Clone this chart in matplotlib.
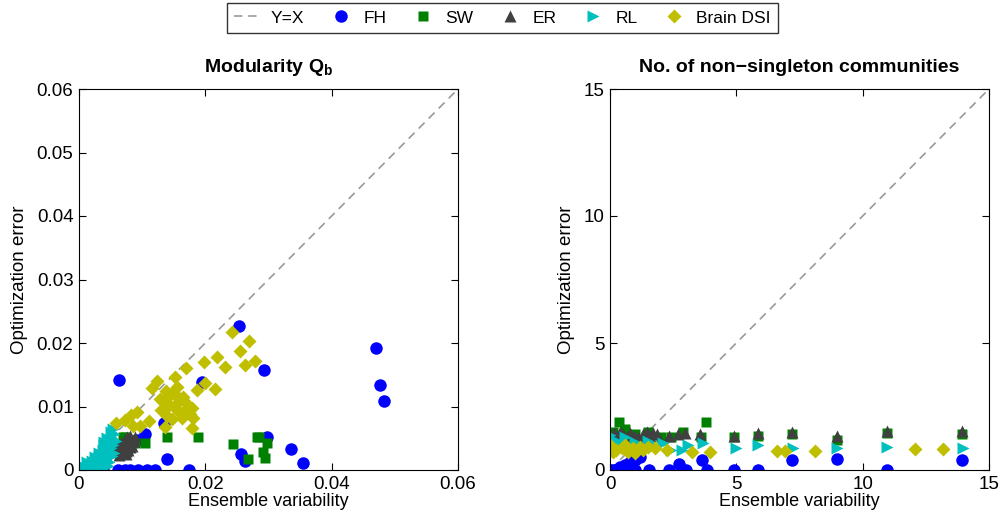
import matplotlib
matplotlib.use('Agg')
import matplotlib.pyplot as plt

plt.rcParams['font.family'] = ['Liberation Sans', 'DejaVu Sans']
plt.rcParams['mathtext.fontset'] = 'custom'
plt.rcParams['mathtext.bf'] = 'Liberation Sans:bold'
plt.rcParams['mathtext.rm'] = 'Liberation Sans'

# ---- left panel: modularity Qb ----
fh_x = [0.0253, 0.0063, 0.0195, 0.0293, 0.0470, 0.0477, 0.0483, 0.0298, 0.0256, 0.0263,
        0.0336, 0.0355, 0.0135, 0.0139, 0.0104, 0.0092, 0.0068,
        0.0002, 0.0010, 0.0022, 0.0030, 0.0038, 0.0062, 0.0073, 0.0081, 0.0093, 0.0108, 0.0120, 0.0174]
fh_y = [0.0227, 0.0142, 0.0139, 0.0157, 0.0192, 0.0134, 0.0109, 0.0052, 0.0025, 0.0014,
        0.0033, 0.0011, 0.0074, 0.0017, 0.0057, 0.0047, 0.0028,
        0, 0, 0, 0, 0, 0, 0, 0, 0, 0, 0, 0]

sw_x = [0.0139, 0.0188, 0.0244, 0.0268, 0.0282, 0.0104, 0.0089, 0.0073, 0.0285, 0.0297,
        0.0292, 0.0294, 0.0070]
sw_y = [0.0052, 0.0052, 0.0041, 0.0017, 0.0052, 0.0043, 0.0043, 0.0052, 0.0052, 0.0042,
        0.0028, 0.0019, 0.0052]

er_x = [0.0062, 0.0065, 0.0068, 0.0070, 0.0072, 0.0075, 0.0077, 0.0080, 0.0082, 0.0085,
        0.0066, 0.0071, 0.0074, 0.0079, 0.0083, 0.0069, 0.0076, 0.0081, 0.0064, 0.0087,
        0.0060, 0.0067, 0.0073, 0.0078, 0.0084, 0.0088, 0.0063, 0.0070, 0.0075, 0.0080]
er_y = [0.0030, 0.0036, 0.0032, 0.0040, 0.0035, 0.0042, 0.0038, 0.0045, 0.0040, 0.0048,
        0.0042, 0.0046, 0.0030, 0.0050, 0.0044, 0.0028, 0.0052, 0.0036, 0.0040, 0.0046,
        0.0034, 0.0026, 0.0048, 0.0032, 0.0038, 0.0052, 0.0024, 0.0034, 0.0025, 0.0054]

rl_x = [0.0010, 0.0014, 0.0018, 0.0020, 0.0024, 0.0026, 0.0028, 0.0030, 0.0032, 0.0034,
        0.0036, 0.0038, 0.0040, 0.0042, 0.0044, 0.0046, 0.0048, 0.0050, 0.0052, 0.0054,
        0.0056, 0.0045, 0.0050, 0.0040, 0.0022, 0.0036, 0.0048, 0.0055, 0.0058, 0.0054,
        0.0012, 0.0016, 0.0020, 0.0025, 0.0030, 0.0034, 0.0038, 0.0043, 0.0047, 0.0052,
        0.0042, 0.0046, 0.0027, 0.0032, 0.0039]
rl_y = [0.0004, 0.0008, 0.0006, 0.0014, 0.0010, 0.0020, 0.0006, 0.0016, 0.0026, 0.0012,
        0.0022, 0.0032, 0.0018, 0.0028, 0.0038, 0.0024, 0.0044, 0.0034, 0.0050, 0.0040,
        0.0056, 0.0050, 0.0060, 0.0044, 0.0002, 0.0004, 0.0012, 0.0026, 0.0046, 0.0064,
        0.0012, 0.0002, 0.0008, 0.0004, 0.0010, 0.0006, 0.0014, 0.0008, 0.0030, 0.0022,
        0.0016, 0.0006, 0.0014, 0.0020, 0.0040]

dsi_x = [0.0242, 0.0269, 0.0255, 0.0263, 0.0279, 0.0218, 0.0231, 0.0198, 0.0169, 0.0187,
         0.0215, 0.0199, 0.0152, 0.0123, 0.0116, 0.0179, 0.0180, 0.0179, 0.0136, 0.0092,
         0.0082, 0.0073, 0.0059, 0.0085, 0.0097, 0.0111,
         0.0130, 0.0135, 0.0140, 0.0145, 0.0150, 0.0155, 0.0160, 0.0165, 0.0170, 0.0175,
         0.0138, 0.0148, 0.0158, 0.0168, 0.0143, 0.0153, 0.0163, 0.0128]
dsi_y = [0.0217, 0.0203, 0.0188, 0.0165, 0.0172, 0.0178, 0.0162, 0.0170, 0.0160, 0.0126,
         0.0127, 0.0137, 0.0147, 0.0140, 0.0129, 0.0098, 0.0082, 0.0066, 0.0068, 0.0091,
         0.0087, 0.0079, 0.0074, 0.0069, 0.0069, 0.0077,
         0.0095, 0.0110, 0.0085, 0.0120, 0.0100, 0.0130, 0.0090, 0.0115, 0.0105, 0.0088,
         0.0125, 0.0080, 0.0108, 0.0095, 0.0103, 0.0118, 0.0082, 0.0112]

# ---- right panel: number of non-singleton communities ----
fh2_x = [0, 0.1, 0.2, 0.3, 0.4, 0.5, 0.6, 0.7, 0.8, 0.9, 1.0, 1.55, 2.33, 3.0, 3.83, 4.9, 5.86, 10.96,
         0.4, 0.6, 0.8, 1.0, 1.2, 2.73, 3.64, 7.2, 8.98, 13.93]
fh2_y = [0, 0, 0, 0, 0, 0, 0, 0, 0, 0, 0, 0, 0, 0, 0, 0, 0, 0,
         0.1, 0.2, 0.3, 0.4, 0.5, 0.24, 0.4, 0.4, 0.43, 0.4]

sw2_x = [0.36, 0.1, 0.6, 1.0, 1.5, 2.0, 2.4, 2.9, 3.8, 3.6, 4.9, 5.86, 7.2, 8.98, 10.96, 13.93]
sw2_y = [1.9, 1.5, 1.6, 1.4, 1.5, 1.3, 1.3, 1.5, 1.9, 1.3, 1.3, 1.35, 1.4, 1.2, 1.45, 1.4]

er2_x = [0, 0.15, 0.27, 0.4, 0.53, 0.66, 0.8, 0.95, 1.1, 1.3, 1.45, 1.58, 1.72, 1.86,
         2.33, 2.7, 2.97, 3.56, 4.9, 5.86, 7.2, 8.98, 10.96, 13.93]
er2_y = [1.3, 1.45, 1.35, 1.5, 1.4, 1.3, 1.45, 1.35, 1.3, 1.4, 1.5, 1.35, 1.45, 1.4,
         1.35, 1.4, 1.45, 1.4, 1.35, 1.45, 1.5, 1.35, 1.55, 1.55]

rl2_x = [0, 0.2, 0.4, 0.6, 0.8, 1.0, 1.2, 1.5, 1.8, 2.1, 2.4, 2.85, 3.1, 3.7, 5.0, 5.86,
         7.25, 9.0, 10.96, 13.97]
rl2_y = [1.38, 1.2, 1.0, 1.3, 0.9, 1.1, 0.85, 1.15, 0.95, 1.05, 0.8, 0.79, 1.0, 1.05, 0.85, 1.0,
         0.86, 0.86, 0.9, 0.86]

dsi2_x = [0, 0.25, 0.47, 0.7, 0.9, 1.19, 1.5, 1.78, 2.25, 3.24, 3.96, 6.6, 6.93, 8.1, 12.07, 13.18,
          0.1, 0.6, 1.0, 1.3]
dsi2_y = [1.0, 0.8, 0.86, 0.7, 0.86, 0.9, 0.9, 0.85, 0.79, 0.72, 0.72, 0.76, 0.76, 0.76, 0.83, 0.83,
          0.7, 1.0, 0.65, 0.8]

left_ticks = [0, 0.02, 0.04, 0.06]
left_yticks = [0, 0.01, 0.02, 0.03, 0.04, 0.05, 0.06]
right_ticks = [0, 5, 10, 15]

c_fh = (0, 0, 1)
c_sw = (0, 0.5, 0)
c_er = (0.25, 0.25, 0.25)
c_rl = (0, 0.75, 0.75)
c_dsi = (0.75, 0.75, 0)

fig = plt.figure(figsize=(10.05, 5.19), dpi=100)
ax1 = fig.add_axes([79 / 1005, 49 / 519, 379 / 1005, 381 / 519])
ax2 = fig.add_axes([610 / 1005, 49 / 519, 379 / 1005, 381 / 519])


def draw(ax, lim, fx, fy, sx, sy, ex, ey, rx, ry, dx, dy):
    ax.plot([0, lim], [0, lim], '--', color=(0.6, 0.6, 0.6), lw=1.2, dashes=(5, 3.5),
            label='Y=X', zorder=1)
    ax.plot(fx, fy, 'o', color=c_fh, ms=9, mec='none', label='FH')
    ax.plot(sx, sy, 's', color=c_sw, ms=7, mec='none', label='SW')
    ax.plot(ex, ey, '^', color=c_er, ms=9, mec='none', label='ER')
    ax.plot(rx, ry, '>', color=c_rl, ms=9, mec='none', label='RL')
    ax.plot(dx, dy, 'D', color=c_dsi, ms=7.5, mec='none', label='Brain DSI')
    ax.set_xlim(0, lim)
    ax.set_ylim(0, lim)
    ax.tick_params(direction='in', top=True, right=True, labelsize=13.5, length=5, pad=4)
    ax.set_xlabel('Ensemble variability', fontsize=13, labelpad=0)
    ax.set_ylabel('Optimization error', fontsize=13.5, labelpad=6)


draw(ax1, 0.06, fh_x, fh_y, sw_x, sw_y, er_x, er_y, rl_x, rl_y, dsi_x, dsi_y)
draw(ax2, 15, fh2_x, fh2_y, sw2_x, sw2_y, er2_x, er2_y, rl2_x, rl2_y, dsi2_x, dsi2_y)

ax1.set_xticks(left_ticks)
ax1.set_xticklabels(['0', '0.02', '0.04', '0.06'])
ax1.set_yticks(left_yticks)
ax1.set_yticklabels(['0', '0.01', '0.02', '0.03', '0.04', '0.05', '0.06'])
ax2.set_xticks(right_ticks)
ax2.set_yticks(right_ticks)

ax1.set_title(r'Modularity Q$_{\mathbf{b}}$', fontsize=14, fontweight='bold', pad=12)
ax2.set_title('No. of non\u2212singleton communities', fontsize=14, fontweight='bold', pad=12)

handles, labels = ax1.get_legend_handles_labels()
leg = fig.legend(handles, labels, loc='upper center', bbox_to_anchor=(0.5, 1.0), ncol=6,
                 fontsize=12.5, frameon=True, fancybox=False, edgecolor='black',
                 columnspacing=1.3, handlelength=1.6, handletextpad=0.5, borderpad=0.4,
                 borderaxespad=0.2)
leg.get_frame().set_linewidth(1)

fig.savefig('out.png', dpi=100)
